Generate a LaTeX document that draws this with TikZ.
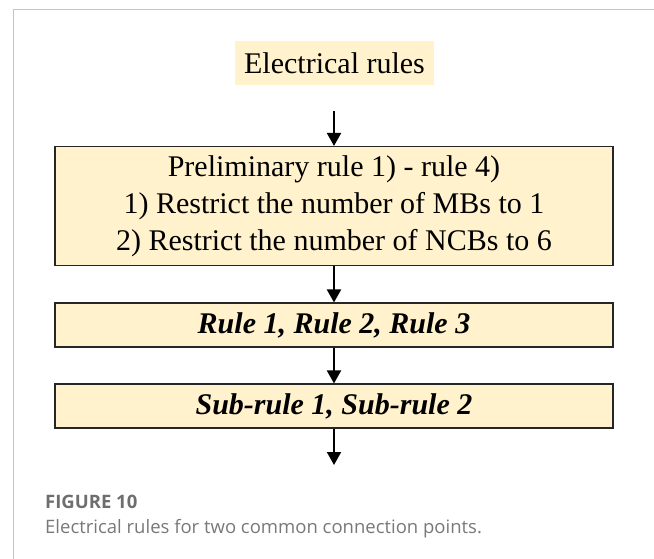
\documentclass[tikz,border=0pt]{standalone}
\usepackage{fontspec}
\setmainfont{Liberation Serif}
\newfontfamily\capfont{Open Sans}
\usetikzlibrary{arrows.meta}
\definecolor{boxfill}{HTML}{FFF2CC}
\definecolor{framegray}{HTML}{C4C4C4}
\definecolor{capgray}{HTML}{6E6E6E}
\definecolor{captext}{HTML}{787878}
\tikzset{
  rulebox/.style={fill=boxfill, draw=black!85, line width=1.1pt, minimum width=558pt, align=center, inner sep=0pt},
  flow/.style={line width=2pt, -{Triangle[width=14pt,length=13pt]}},
}
\begin{document}
\begin{tikzpicture}[x=1pt,y=-1pt]
  \useasboundingbox (0,0) rectangle (654,559);
  % page frame
  \draw[framegray, line width=1pt] (13,559) -- (13,9.5) -- (654,9.5);
  % title label
  \node[fill=boxfill, minimum width=199pt, minimum height=44pt, inner sep=0pt, font=\fontsize{30}{34}\selectfont] (title) at (334.5,63) {Electrical rules};
  % preliminary rules
  \node[rulebox, minimum height=119pt, font=\fontsize{30}{37}\selectfont] (pre) at (334,206)
    {Preliminary rule 1) - rule 4)\\1) Restrict the number of MBs to 1\\2) Restrict the number of NCBs to 6};
  % main rules
  \node[rulebox, minimum height=44pt, font=\fontsize{30}{34}\selectfont\bfseries\itshape] (main) at (334,325) {Rule 1, Rule 2, Rule 3};
  % sub-rules
  \node[rulebox, minimum height=44pt, font=\fontsize{30}{34}\selectfont\bfseries\itshape] (sub) at (334,406) {Sub-rule 1, Sub-rule 2};
  \coordinate (start) at (334,111);
  \coordinate (end) at (334,465);
  % connectors
  \draw[flow] (start) -- (pre.north);
  \draw[flow] (pre.south) -- (main.north);
  \draw[flow] (main.south) -- (sub.north);
  \draw[flow] (sub.south) -- (end);
  % caption
  \node[anchor=base west, inner sep=0pt, text=capgray, font=\capfont\fontsize{18.5}{21}\selectfont\bfseries] (fig) at (45,508) {FIGURE 10};
  \node[anchor=base west, inner sep=0pt, text=captext, font=\capfont\fontsize{18.5}{21}\selectfont] (cap) at (45,533) {Electrical rules for two common connection points.};
\end{tikzpicture}
\end{document}
